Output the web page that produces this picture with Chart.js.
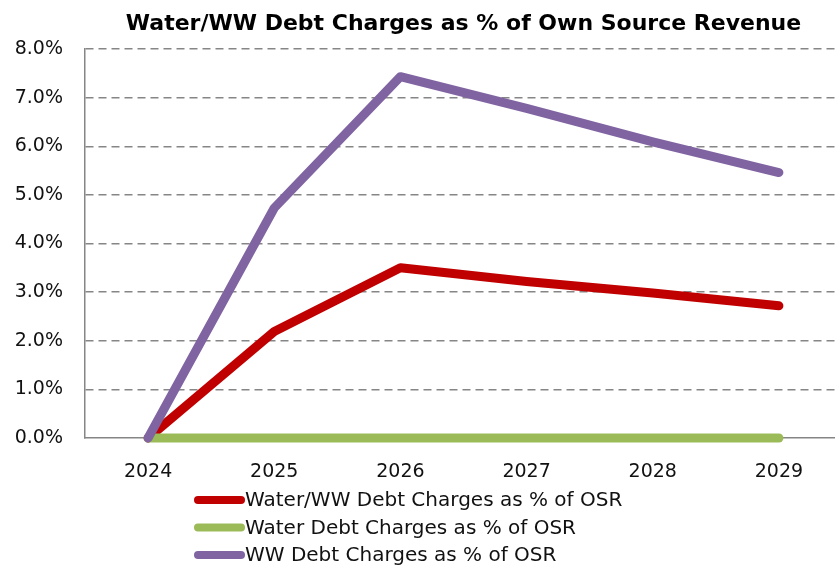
<!DOCTYPE html>
<html>
<head>
<meta charset="utf-8">
<script src="https://cdn.jsdelivr.net/npm/chart.js@4.4.1/dist/chart.umd.min.js"></script>
<style>
  html, body { margin: 0; padding: 0; background: #fff; overflow: hidden; }
  #wrap { width: 835px; height: 570px; overflow: hidden; }
</style>
</head>
<body>
<div id="wrap"><canvas id="chart" width="842" height="570"></canvas></div>
<script>
const chartTitle = 'Water/WW Debt Charges as % of Own Source Revenue';
const years = ['2024', '2025', '2026', '2027', '2028', '2029'];
const seriesNames = [
  'Water/WW Debt Charges as % of OSR',
  'Water Debt Charges as % of OSR',
  'WW Debt Charges as % of OSR',
];
const combinedPct = [0, 2.19, 3.50, 3.22, 2.98, 2.72];
const waterPct = [0, 0, 0, 0, 0, 0];
const wwPct = [0, 4.73, 7.43, 6.78, 6.09, 5.46];
const yMin = 0;
const yMax = 8;
const yStep = 1;

const seriesColors = ['#C00000', '#9BBB59', '#8064A2'];
const textColor = '#111';
const gridColor = '#868686';
const tickFont = { family: '"DejaVu Sans"', size: 19 };

// title and stacked legend, laid out like the spreadsheet original
const titleLegendPlugin = {
  id: 'titleLegend',
  afterDraw(chart) {
    const ctx = chart.ctx;
    const area = chart.chartArea;
    if (!ctx || !area) {
      return;
    }
    ctx.save();
    ctx.fillStyle = '#000';
    ctx.font = 'bold 22px "DejaVu Sans"';
    ctx.textAlign = 'center';
    ctx.textBaseline = 'alphabetic';
    ctx.fillText(chartTitle, (area.left + area.right) / 2, 30);

    const lineStart = 198;
    const lineEnd = 241;
    const rowTop = 500;
    const rowGap = 27.5;
    ctx.font = '20px "DejaVu Sans"';
    ctx.textAlign = 'left';
    ctx.textBaseline = 'middle';
    ctx.lineCap = 'round';
    ctx.lineWidth = 8;
    seriesNames.forEach((name, index) => {
      const y = rowTop + index * rowGap;
      ctx.strokeStyle = seriesColors[index];
      ctx.beginPath();
      ctx.moveTo(lineStart, y);
      ctx.lineTo(lineEnd, y);
      ctx.stroke();
      ctx.fillStyle = textColor;
      ctx.fillText(name, lineEnd + 4, y + 1);
    });
    ctx.restore();
  },
};

const seriesValues = [combinedPct, waterPct, wwPct];
const drawOrder = [2, 1, 0];

const datasets = seriesNames.map((name, index) => ({
  label: name,
  data: seriesValues[index],
  borderColor: seriesColors[index],
  backgroundColor: seriesColors[index],
  borderWidth: 9,
  borderCapStyle: 'round',
  borderJoinStyle: 'round',
  pointRadius: 0,
  pointHoverRadius: 0,
  tension: 0,
  fill: false,
  clip: 10,
  order: drawOrder[index],
}));

new Chart(document.getElementById('chart').getContext('2d'), {
  type: 'line',
  data: { labels: years, datasets },
  options: {
    responsive: false,
    animation: false,
    devicePixelRatio: 1,
    layout: { padding: { top: 49, right: 0, bottom: 0, left: 0 } },
    plugins: {
      legend: { display: false },
      title: { display: false },
      tooltip: { enabled: false },
    },
    scales: {
      x: {
        offset: true,
        grid: { display: false, offset: true },
        border: { display: true, color: gridColor, width: 1.5 },
        ticks: { color: textColor, font: tickFont, padding: 15, maxRotation: 0 },
        afterFit(scale) {
          scale.height = 132;
        },
      },
      y: {
        min: yMin,
        max: yMax,
        grid: {
          drawTicks: false,
          lineWidth: 1.5,
          color: (c) => (c.tick && c.tick.value === 0 ? 'rgba(0,0,0,0)' : gridColor),
        },
        border: { display: true, color: gridColor, width: 1.5, dash: [8, 5] },
        ticks: {
          stepSize: yStep,
          color: textColor,
          font: tickFont,
          padding: 22,
          callback: (v) => Number(v).toFixed(1) + '%',
        },
        afterFit(scale) {
          scale.width = 85;
        },
      },
    },
  },
  plugins: [titleLegendPlugin],
});
</script>
</body>
</html>
